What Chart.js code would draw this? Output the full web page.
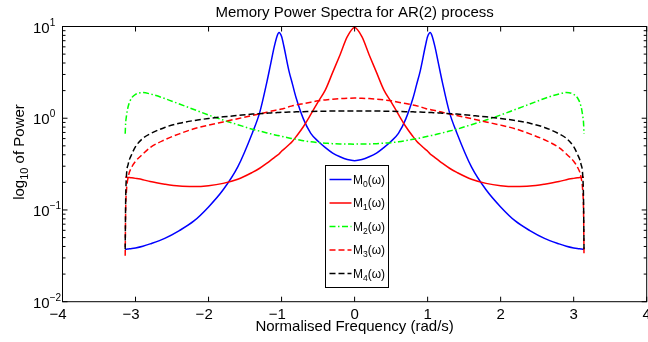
<!DOCTYPE html>
<html>
<head>
<meta charset="utf-8">
<title>Memory Power Spectra for AR(2) process</title>
<script src="https://cdn.jsdelivr.net/npm/chart.js@4.4.1/dist/chart.umd.min.js"></script>
<style>
  html, body { margin: 0; padding: 0; background: #fff; }
  canvas { display: block; }
</style>
</head>
<body>
<canvas id="spectra" width="648" height="342"></canvas>
<script>
// normalised frequency grid (rad/s), -pi .. pi
const omega = [
  -3.1416, -3.135, -3.125, -3.1, -3.05, -3.0, -2.9, -2.8, -2.6, -2.4, -2.2, -2.0, -1.8, -1.6,
  -1.4, -1.3, -1.2, -1.15, -1.1, -1.06, -1.035, -1.0, -0.97, -0.9, -0.85, -0.8, -0.7, -0.6,
  -0.5, -0.4, -0.3, -0.2, -0.1, 0,
  0.1, 0.2, 0.3, 0.4, 0.5, 0.6, 0.7, 0.8, 0.85, 0.9, 0.97, 1.0, 1.035, 1.06, 1.1, 1.15, 1.2,
  1.3, 1.4, 1.6, 1.8, 2.0, 2.2, 2.4, 2.6, 2.8, 2.9, 3.0, 3.05, 3.1, 3.125, 3.135, 3.1416
];

// memory power spectra M0..M4
const m0 = [
  0.0373, 0.0373, 0.0374, 0.0376, 0.0380, 0.0386, 0.0403, 0.0427, 0.0490, 0.0596, 0.0759, 0.108, 0.166, 0.295,
  0.692, 1.15, 2.51, 3.89, 6.03, 7.94, 8.61, 7.76, 6.17, 3.31, 2.34, 1.66, 0.977, 0.684,
  0.562, 0.479, 0.417, 0.380, 0.355, 0.345,
  0.355, 0.380, 0.417, 0.479, 0.562, 0.684, 0.977, 1.66, 2.34, 3.31, 6.17, 7.76, 8.61, 7.94, 6.03, 3.89, 2.51,
  1.15, 0.692, 0.295, 0.166, 0.108, 0.0759, 0.0596, 0.0490, 0.0427, 0.0403, 0.0386, 0.0380, 0.0376, 0.0374, 0.0373, 0.0373
];
const m1 = [
  0.2275, 0.2275, 0.227, 0.226, 0.224, 0.221, 0.214, 0.204, 0.191, 0.182, 0.180, 0.184, 0.195, 0.216,
  0.257, 0.285, 0.324, 0.347, 0.372, 0.394, 0.407, 0.437, 0.457, 0.513, 0.562, 0.631, 0.813, 1.10,
  1.51, 2.04, 3.16, 4.90, 7.76, 9.77,
  7.76, 4.90, 3.16, 2.04, 1.51, 1.10, 0.813, 0.631, 0.562, 0.513, 0.457, 0.437, 0.407, 0.394, 0.372, 0.347, 0.324,
  0.285, 0.257, 0.216, 0.195, 0.184, 0.180, 0.182, 0.191, 0.204, 0.214, 0.221, 0.224, 0.226, 0.227, 0.2275, 0.2275
];
const m2 = [
  0.676, 0.891, 1.047, 1.349, 1.679, 1.820, 1.905, 1.841, 1.641, 1.429, 1.245, 1.084, 0.955, 0.851,
  0.759, 0.724, 0.692, 0.676, 0.661, 0.650, 0.646, 0.635, 0.627, 0.610, 0.598, 0.589, 0.569, 0.553,
  0.542, 0.535, 0.528, 0.525, 0.524, 0.522,
  0.524, 0.525, 0.528, 0.535, 0.542, 0.553, 0.569, 0.589, 0.598, 0.610, 0.627, 0.635, 0.646, 0.650, 0.661, 0.676, 0.692,
  0.724, 0.759, 0.851, 0.955, 1.084, 1.245, 1.429, 1.641, 1.841, 1.905, 1.820, 1.679, 1.349, 1.047, 0.891, 0.676
];
const m3 = [
  0.0316, 0.100, 0.158, 0.229, 0.295, 0.339, 0.407, 0.479, 0.582, 0.676, 0.767, 0.841, 0.912, 0.989,
  1.072, 1.114, 1.161, 1.189, 1.216, 1.230, 1.245, 1.259, 1.274, 1.334, 1.365, 1.396, 1.445, 1.496,
  1.549, 1.585, 1.614, 1.637, 1.652, 1.660,
  1.652, 1.637, 1.614, 1.585, 1.549, 1.496, 1.445, 1.396, 1.365, 1.334, 1.274, 1.259, 1.245, 1.230, 1.216, 1.189, 1.161,
  1.114, 1.072, 0.989, 0.912, 0.841, 0.767, 0.676, 0.582, 0.479, 0.407, 0.339, 0.295, 0.229, 0.158, 0.100, 0.0316
];
const m4 = [
  0.0372, 0.126, 0.229, 0.316, 0.407, 0.490, 0.603, 0.676, 0.794, 0.881, 0.944, 0.993, 1.035, 1.072,
  1.109, 1.122, 1.135, 1.143, 1.148, 1.153, 1.156, 1.159, 1.161, 1.167, 1.169, 1.175, 1.180, 1.186,
  1.191, 1.194, 1.197, 1.199, 1.202, 1.202,
  1.202, 1.199, 1.197, 1.194, 1.191, 1.186, 1.180, 1.175, 1.169, 1.167, 1.161, 1.159, 1.156, 1.153, 1.148, 1.143, 1.135,
  1.122, 1.109, 1.072, 1.035, 0.993, 0.944, 0.881, 0.794, 0.676, 0.603, 0.490, 0.407, 0.316, 0.229, 0.126, 0.0372
];

const seriesIndex = ['0', '1', '2', '3', '4'];
const xTickValues = [-4, -3, -2, -1, 0, 1, 2, 3, 4];
const yDecadeExponents = [-2, -1, 0, 1];

const FONT = '"Liberation Sans", Arial, Helvetica, sans-serif';
const LABEL_SIZE = 15;

const styles = [
  { color: '#0000ff', dash: [] },
  { color: '#ff0000', dash: [] },
  { color: '#00ff00', dash: [6, 2.5, 1.5, 2.5] },
  { color: '#ff0000', dash: [6, 3] },
  { color: '#000000', dash: [6, 3] }
];

const datasets = [m0, m1, m2, m3, m4].map((vals, i) => ({
  label: 'M' + seriesIndex[i],
  data: omega.map((w, k) => ({ x: w, y: vals[k] })),
  borderColor: styles[i].color,
  borderDash: styles[i].dash,
  borderWidth: 1.5,
  pointRadius: 0,
  fill: false,
  cubicInterpolationMode: 'monotone',
  order: 4 - i   // M0 underneath, M4 on top
}));

// text with a raised / lowered small part, e.g. 10^-1 or M_0
function richText(ctx, x, y, parts) {
  let cx = x;
  parts.forEach(p => {
    ctx.font = p.size + 'px ' + FONT;
    ctx.fillText(p.t, cx, y + (p.dy || 0));
    cx += ctx.measureText(p.t).width;
  });
  return cx - x;
}
function richWidth(ctx, parts) {
  let w = 0;
  parts.forEach(p => { ctx.font = p.size + 'px ' + FONT; w += ctx.measureText(p.t).width; });
  return w;
}

const frame = {
  id: 'frame',
  beforeDraw(chart) {
    const ctx = chart.ctx;
    ctx.save();
    ctx.fillStyle = '#fff';
    ctx.fillRect(0, 0, chart.width, chart.height);
    ctx.restore();
  },
  afterDatasetsDraw(chart) {
    const { ctx, chartArea: a, scales: { x, y } } = chart;
    ctx.save();
    ctx.strokeStyle = '#000';
    ctx.fillStyle = '#000';
    ctx.lineWidth = 1;
    ctx.setLineDash([]);

    // axes box
    ctx.strokeRect(a.left, a.top, a.right - a.left, a.bottom - a.top);

    // x ticks, bottom and top, pointing in
    ctx.beginPath();
    xTickValues.forEach(v => {
      const px = x.getPixelForValue(v);
      ctx.moveTo(px, a.bottom); ctx.lineTo(px, a.bottom - 5);
      ctx.moveTo(px, a.top); ctx.lineTo(px, a.top + 5);
    });
    // y ticks, decades and minor 2..9
    yDecadeExponents.forEach(e => {
      const d = Math.pow(10, e);
      const py = y.getPixelForValue(d);
      ctx.moveTo(a.left, py); ctx.lineTo(a.left + 5, py);
      ctx.moveTo(a.right, py); ctx.lineTo(a.right - 5, py);
      if (e < 1) {
        for (let k = 2; k <= 9; k++) {
          const pm = y.getPixelForValue(d * k);
          ctx.moveTo(a.left, pm); ctx.lineTo(a.left + 3, pm);
          ctx.moveTo(a.right, pm); ctx.lineTo(a.right - 3, pm);
        }
      }
    });
    ctx.stroke();

    // x tick labels: digit centred on the tick, minus sign hanging left
    ctx.font = LABEL_SIZE + 'px ' + FONT;
    ctx.textBaseline = 'alphabetic';
    xTickValues.forEach(v => {
      const px = x.getPixelForValue(v);
      const digits = String(Math.abs(v));
      const w = ctx.measureText(digits).width;
      ctx.textAlign = 'left';
      ctx.fillText(digits, px - w / 2, a.bottom + 17);
      if (v < 0) {
        ctx.textAlign = 'right';
        ctx.fillText('\u2212', px - w / 2, a.bottom + 17);
      }
    });

    // y tick labels 10^e
    ctx.textAlign = 'left';
    yDecadeExponents.forEach(e => {
      const py = y.getPixelForValue(Math.pow(10, e));
      const sup = e < 0 ? '\u2212' + Math.abs(e) : String(e);
      richText(ctx, 33, py + 6, [
        { t: '10', size: LABEL_SIZE },
        { t: sup, size: 10, dy: -7 }
      ]);
    });

    // title
    ctx.textAlign = 'center';
    ctx.font = LABEL_SIZE + 'px ' + FONT;
    ctx.fillText('Memory Power Spectra for AR(2) process', (a.left + a.right) / 2, 17);

    // x axis title
    ctx.fillText('Normalised Frequency (rad/s)', (a.left + a.right) / 2, 331);

    // y axis title, rotated
    ctx.textAlign = 'left';
    const yParts = [
      { t: 'log', size: LABEL_SIZE },
      { t: '10', size: 11, dy: 4 },
      { t: ' of Power', size: LABEL_SIZE }
    ];
    ctx.save();
    ctx.translate(24, 152);
    ctx.rotate(-Math.PI / 2);
    richText(ctx, -richWidth(ctx, yParts) / 2, 0, yParts);
    ctx.restore();

    // legend
    const lx = 325.5, ly = 165.5, lw = 63, lh = 122;
    ctx.fillStyle = '#fff';
    ctx.fillRect(lx, ly, lw, lh);
    ctx.strokeRect(lx, ly, lw, lh);
    chart.data.datasets.forEach((ds, i) => {
      const cy = ly + 14 + i * 23.5;
      ctx.strokeStyle = ds.borderColor;
      ctx.lineWidth = 1.5;
      ctx.setLineDash(ds.borderDash);
      ctx.beginPath();
      ctx.moveTo(329.5, cy);
      ctx.lineTo(351.5, cy);
      ctx.stroke();
      ctx.setLineDash([]);
      ctx.fillStyle = '#000';
      richText(ctx, 353, cy + 4, [
        { t: 'M', size: 12 },
        { t: seriesIndex[i], size: 8.5, dy: 3 },
        { t: '(\u03c9)', size: 12 }
      ]);
    });

    ctx.restore();
  }
};

new Chart(document.getElementById('spectra').getContext('2d'), {
  type: 'line',
  data: { datasets: datasets },
  options: {
    responsive: false,
    animation: false,
    devicePixelRatio: 1,
    layout: { padding: { left: 62.5, right: 1.3, top: 26.5, bottom: 40.3 } },
    plugins: {
      legend: { display: false },
      tooltip: { enabled: false },
      title: { display: false }
    },
    scales: {
      x: { type: 'linear', min: -4, max: 4, display: false },
      y: { type: 'logarithmic', min: 0.01, max: 10, display: false }
    }
  },
  plugins: [frame]
});
</script>
</body>
</html>
